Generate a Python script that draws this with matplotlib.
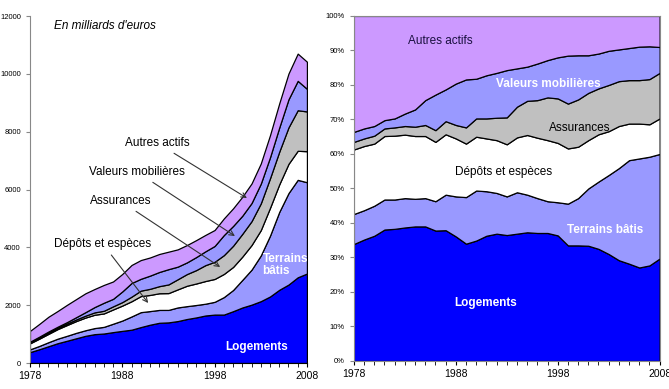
import numpy as np
import matplotlib.pyplot as plt
from matplotlib.ticker import MultipleLocator

plt.rcParams['font.family'] = ['Liberation Sans', 'DejaVu Sans']

years = np.arange(1978, 2009)

# total assets, billions of euros (top of left chart)
total = [1110, 1350, 1600, 1800, 2010, 2210, 2410, 2560, 2700, 2820,
         3080, 3390, 3560, 3650, 3770, 3850, 3930, 4080, 4250, 4430,
         4600, 5000, 5350, 5750, 6210, 6900, 7880, 8980, 10010, 10700,
         10420]

# shares in %
logements = [33.9, 35.2, 36.3, 38.1, 38.3, 38.7, 39.0, 39.0, 37.8, 37.9,
             36.1, 34.0, 34.9, 36.3, 36.9, 36.5, 36.9, 37.3, 37.1, 37.1,
             36.4, 33.5, 33.5, 33.4, 32.5, 31.0, 29.2, 28.2, 27.1, 27.7,
             29.7]
terrains = [8.7, 8.5, 8.7, 8.7, 8.5, 8.5, 8.0, 8.2, 8.5, 10.3,
            11.6, 13.5, 14.5, 12.9, 11.8, 11.2, 12.0, 10.9, 10.1, 9.2,
            9.6, 12.1, 13.7, 16.6, 19.5, 22.9, 26.7, 30.0, 31.6, 31.5,
            30.3]
depots = [18.7, 18.6, 18.0, 18.4, 18.5, 18.4, 18.2, 18.0, 17.2, 17.5,
          16.8, 15.5, 15.6, 15.3, 15.3, 15.1, 15.9, 17.3, 17.5, 17.7,
          17.2, 16.0, 14.9, 14.0, 13.7, 12.7, 12.2, 10.6, 10.1, 9.4,
          10.3]
assurances = [2.2, 2.2, 2.3, 2.2, 2.4, 2.5, 2.7, 3.2, 3.4, 3.8,
              3.9, 4.7, 5.3, 5.8, 6.5, 7.8, 8.9, 9.9, 10.9, 12.4,
              12.9, 13.0, 13.7, 13.7, 13.3, 13.4, 13.0, 12.6, 12.6, 13.1,
              13.2]
valeurs = [2.9, 2.9, 2.8, 2.4, 2.6, 3.6, 5.0, 7.2, 10.3, 9.2,
           12.0, 13.9, 11.5, 12.5, 13.0, 13.7, 11.1, 9.9, 10.6, 10.8,
           11.9, 13.9, 12.8, 10.9, 10.1, 9.9, 9.2, 9.3, 9.7, 9.5,
           7.5]
autres = [33.6, 32.6, 31.9, 30.2, 29.7, 28.3, 27.1, 24.4, 22.8, 21.3,
          19.6, 18.4, 18.2, 17.2, 16.5, 15.7, 15.2, 14.7, 13.8, 12.8,
          12.0, 11.5, 11.4, 11.4, 10.9, 10.1, 9.7, 9.3, 8.9, 8.8,
          9.0]

colors = ['#0000FF', '#9999FF', '#FFFFFF', '#C0C0C0', '#9999FF', '#CC99FF']

shares = np.array([logements, terrains, depots, assurances, valeurs, autres])
values = shares / 100 * np.array(total)

fig = plt.figure(figsize=(6.69, 3.89), dpi=100)
ax1 = fig.add_axes([0.0448, 0.0668, 0.414, 0.892])
ax2 = fig.add_axes([0.529, 0.072, 0.457, 0.887])

# left: billions of euros
ax1.stackplot(years, values, colors=colors, edgecolor='black', linewidth=0.9)
ax1.set_xlim(1978, 2008)
ax1.set_ylim(0, 12000)
ax1.set_yticks(range(0, 12001, 2000))
ax1.set_xticks([1978, 1988, 1998, 2008])
ax1.xaxis.set_minor_locator(MultipleLocator(1))
ax1.tick_params(axis='y', labelsize=5.5, length=3, color='#888888')
ax1.tick_params(axis='x', which='both', labelsize=7.5, length=3, pad=3)
for s in ['top', 'right']:
    ax1.spines[s].set_visible(False)
ax1.spines['left'].set_color('#888888')

ax1.text(1980.6, 11650, "En milliards d'euros", style='italic', fontsize=8.5,
         ha='left', va='center')
arrow = dict(arrowstyle='->', color='#333333', lw=0.8, shrinkA=2, shrinkB=0)
ax1.annotate('Autres actifs', xy=(2001.5, 5705), xytext=(1991.8, 7607),
             fontsize=8.5, ha='center', va='center', arrowprops=arrow)
ax1.annotate('Valeurs mobilières', xy=(2000.2, 4391), xytext=(1989.6, 6605),
             fontsize=8.5, ha='center', va='center', arrowprops=arrow)
ax1.annotate('Assurances', xy=(1998.6, 3320), xytext=(1987.8, 5602),
             fontsize=8.5, ha='center', va='center', arrowprops=arrow)
ax1.annotate('Dépôts et espèces', xy=(1990.8, 2075), xytext=(1985.9, 4115),
             fontsize=8.5, ha='center', va='center', arrowprops=arrow)
ax1.text(2003.2, 3389, 'Terrains\nbâtis', color='white', fontweight='bold',
         fontsize=8.5, ha='left', va='center', linespacing=1.1)
ax1.text(2002.5, 564, 'Logements', color='white', fontweight='bold',
         fontsize=8.5, ha='center', va='center')

# right: shares
ax2.stackplot(years, shares, colors=colors, edgecolor='black', linewidth=0.9)
ax2.set_xlim(1978, 2008)
ax2.set_ylim(0, 100)
ax2.set_yticks(range(0, 101, 10))
ax2.set_yticklabels([f'{v}%' for v in range(0, 101, 10)])
ax2.set_xticks([1978, 1988, 1998, 2008])
ax2.xaxis.set_minor_locator(MultipleLocator(1))
ax2.tick_params(axis='y', labelsize=5.5, length=3, color='#888888')
ax2.tick_params(axis='x', which='both', labelsize=7.5, length=3, pad=3)
for s in ax2.spines.values():
    s.set_color('#888888')

ax2.text(1986.5, 92.8, 'Autres actifs', fontsize=8.5, color='#1a1040',
         ha='center', va='center')
ax2.text(1997.1, 80.2, 'Valeurs mobilières', fontsize=8.5, color='white',
         fontweight='bold', ha='center', va='center')
ax2.text(2000.2, 67.4, 'Assurances', fontsize=8.5, ha='center', va='center')
ax2.text(1992.7, 54.7, 'Dépôts et espèces', fontsize=8.5, ha='center',
         va='center')
ax2.text(2002.7, 38.0, 'Terrains bâtis', fontsize=8.5, color='white',
         fontweight='bold', ha='center', va='center')
ax2.text(1990.9, 16.7, 'Logements', fontsize=8.5, color='white',
         fontweight='bold', ha='center', va='center')

fig.savefig('out.png', dpi=100)
